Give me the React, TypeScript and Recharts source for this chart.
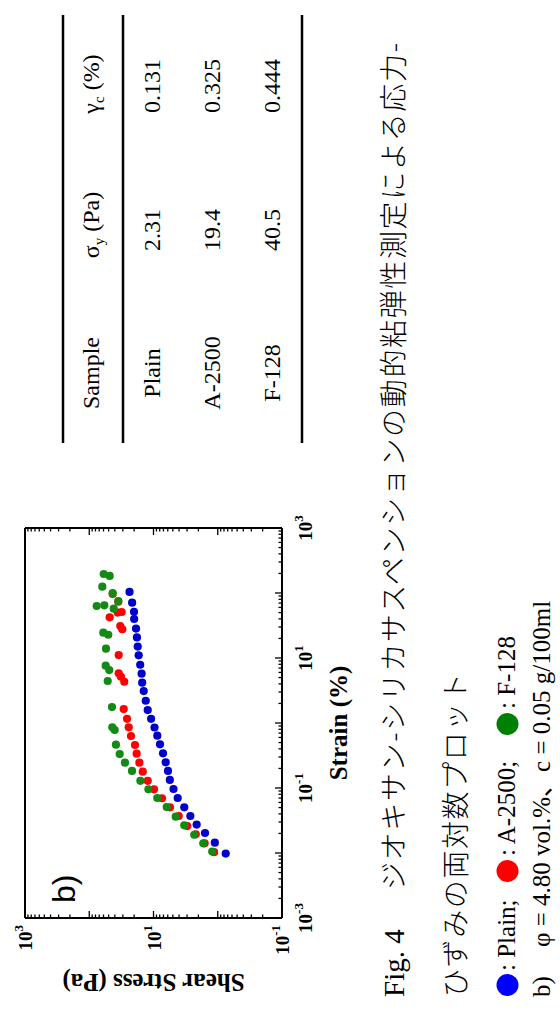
import { ScatterChart, Scatter, XAxis, YAxis, Label } from 'recharts';

// strain (%) and shear stress (Pa)
const plainStrain = [0.0098, 0.0144, 0.0203, 0.0274, 0.0371, 0.0505, 0.0702, 0.0966, 0.133, 0.183, 0.248, 0.342, 0.47, 0.638, 0.853, 1.16, 1.58, 2.2, 3.1, 4.17, 5.73, 7.88, 11.0, 15.0, 20.7, 28.4, 39.8, 51.5, 71.0, 104];
const plainStress = [0.752, 1.11, 1.58, 2.13, 2.67, 3.32, 4.2, 4.88, 5.57, 5.95, 6.46, 7.11, 7.92, 8.73, 9.64, 10.9, 12.3, 13.2, 14.2, 15.0, 15.3, 16.1, 17.0, 17.6, 18.1, 18.7, 20.0, 20.1, 21.5, 23.6];

const a2500Strain = [0.0103, 0.0141, 0.0194, 0.026, 0.0371, 0.0505, 0.0695, 0.0955, 0.129, 0.178, 0.245, 0.337, 0.459, 0.631, 0.859, 1.16, 1.64, 4.31, 5.15, 5.82, 11.1, 27.7, 31.0, 51.0, 50.0, 42.3, 73.5, 96.6];
const a2500Stress = [1.14, 1.6, 2.2, 2.98, 4.05, 5.54, 7.38, 9.82, 12.3, 14.7, 16.6, 18.3, 19.4, 22.4, 24.3, 25.8, 29.1, 28.5, 32.1, 34.8, 34.8, 30.6, 32.9, 31.3, 36.1, 48.1, 35.3, 43.2];

const f128Strain = [0.0105, 0.0141, 0.0191, 0.0267, 0.0362, 0.051, 0.0702, 0.0955, 0.129, 0.183, 0.245, 0.333, 0.464, 0.78, 0.859, 1.76, 4.43, 6.53, 7.62, 13.9, 22.8, 24.5, 57.3, 64.7, 63.1, 75.3, 100, 125, 183, 196];
const f128Stress = [1.22, 1.68, 2.32, 3.32, 4.51, 6.23, 8.73, 12.0, 16.0, 21.6, 27.8, 33.6, 38.4, 40.2, 43.8, 44.3, 51.6, 48.8, 55.5, 54.9, 50.6, 60.4, 41.6, 58.3, 76.6, 35.3, 43.2, 62.6, 48.1, 59.6];

const strainDecades = [0.001, 0.01, 0.1, 1, 10, 100, 1000];
const stressDecades = [0.1, 1, 10, 100, 1000];
const minorSteps = [2, 3, 4, 5, 6, 7, 8, 9];
const strainLabels: Record<string, string> = { '0.001': '-3', '0.1': '-1', '10': '1', '1000': '3' };
const stressLabels: Record<string, string> = { '0.1': '-1', '10': '1', '1000': '3' };

// table
const tableSamples = ['Plain', 'A-2500', 'F-128'];
const tableYield = ['2.31', '19.4', '40.5'];
const tableCritical = ['0.131', '0.325', '0.444'];

const zip = (xs: number[], ys: number[]) => xs.map((x, i) => ({ x, y: ys[i] }));
const withMinors = (decades: number[]) =>
  decades.flatMap((d, i) => (i === decades.length - 1 ? [d] : [d, ...minorSteps.map((m) => +(d * m).toPrecision(6))]));

const strainTicks = withMinors(strainDecades);
const stressTicks = withMinors(stressDecades);

const SERIF = '"Liberation Serif", "Times New Roman", serif';
const CJK = '"Noto Sans CJK JP", sans-serif';

const isMajor = (v: number) => {
  const lg = Math.log10(v);
  return Math.abs(lg - Math.round(lg)) < 1e-6;
};

const makeTick = (side: 'bottom' | 'top' | 'left' | 'right') => (props: any) => {
  const { x, y, payload } = props;
  const v = payload.value;
  const len = isMajor(v) ? 7 : 3.5;
  let line;
  if (side === 'bottom') line = <line x1={x} y1={y} x2={x} y2={y - len} />;
  else if (side === 'top') line = <line x1={x} y1={y} x2={x} y2={y + len} />;
  else if (side === 'left') line = <line x1={x} y1={y} x2={x + len} y2={y} />;
  else line = <line x1={x} y1={y} x2={x - len} y2={y} />;
  let text = null;
  const key = String(v);
  if (side === 'bottom' && strainLabels[key]) {
    text = (
      <text x={x} y={y + 30} textAnchor="middle" fontFamily={SERIF} fontWeight="bold" fontSize={19} fill="#000" stroke="none">
        <tspan>10</tspan>
        <tspan dy={-9} fontSize={13}>{strainLabels[key]}</tspan>
      </text>
    );
  }
  if (side === 'left' && stressLabels[key]) {
    text = (
      <text x={x - 7} y={y + 7} textAnchor="end" fontFamily={SERIF} fontWeight="bold" fontSize={19} fill="#000" stroke="none">
        <tspan>10</tspan>
        <tspan dy={-9} fontSize={13}>{stressLabels[key]}</tspan>
      </text>
    );
  }
  return (
    <g stroke="#000" strokeWidth={1.3}>
      {line}
      {text}
    </g>
  );
};

const dot = (color: string) => (props: any) => <circle cx={props.cx} cy={props.cy} r={4.1} fill={color} />;

const axisLine = { stroke: '#000', strokeWidth: 2 };

function StressChart() {
  return (
    <ScatterChart width={520} height={360} margin={{ top: 24, right: 25, bottom: 8, left: 4 }}>
      <XAxis
        xAxisId="bottom"
        dataKey="x"
        type="number"
        scale="log"
        domain={[0.001, 1000]}
        allowDataOverflow
        ticks={strainTicks}
        interval={0}
        height={70}
        tickSize={0}
        tickMargin={0}
        tickLine={false}
        axisLine={axisLine}
        tick={makeTick('bottom')}
      >
        <Label
          content={(p: any) => {
            const vb = p.viewBox;
            return (
              <text x={vb.x + vb.width / 2} y={vb.y + 65} textAnchor="middle" fontFamily={SERIF} fontWeight="bold" fontSize={25}>
                Strain (%)
              </text>
            );
          }}
        />
      </XAxis>
      <XAxis
        xAxisId="top"
        orientation="top"
        type="number"
        scale="log"
        domain={[0.001, 1000]}
        allowDataOverflow
        ticks={strainTicks}
        interval={0}
        height={1}
        tickSize={0}
        tickMargin={0}
        tickLine={false}
        axisLine={axisLine}
        tick={makeTick('top')}
      />
      <YAxis
        yAxisId="left"
        dataKey="y"
        type="number"
        scale="log"
        domain={[0.1, 1000]}
        allowDataOverflow
        ticks={stressTicks}
        interval={0}
        width={100}
        tickSize={0}
        tickMargin={0}
        tickLine={false}
        axisLine={axisLine}
        tick={makeTick('left')}
      >
        <Label
          content={(p: any) => {
            const vb = p.viewBox;
            const cx = vb.x + 44;
            const cy = vb.y + vb.height / 2;
            return (
              <text x={cx} y={cy} transform={`rotate(-90 ${cx} ${cy})`} textAnchor="middle" fontFamily={SERIF} fontWeight="bold" fontSize={25}>
                Shear Stress (Pa)
              </text>
            );
          }}
        />
      </YAxis>
      <YAxis
        yAxisId="right"
        orientation="right"
        type="number"
        scale="log"
        domain={[0.1, 1000]}
        allowDataOverflow
        ticks={stressTicks}
        interval={0}
        width={1}
        tickSize={0}
        tickMargin={0}
        tickLine={false}
        axisLine={axisLine}
        tick={makeTick('right')}
      />
      <Scatter name="Plain" data={zip(plainStrain, plainStress)} xAxisId="bottom" yAxisId="left" shape={dot('#0000cd')} isAnimationActive={false} />
      <Scatter name="A-2500" data={zip(a2500Strain, a2500Stress)} xAxisId="bottom" yAxisId="left" shape={dot('#ff0000')} isAnimationActive={false} />
      <Scatter name="F-128" data={zip(f128Strain, f128Stress)} xAxisId="bottom" yAxisId="left" shape={dot('#138a13')} isAnimationActive={false} />
    </ScatterChart>
  );
}

function PageText() {
  const cols = [649, 792, 936];
  const rows = [160, 220, 280];
  return (
    <svg width={1022} height={560} style={{ position: 'absolute', left: 0, top: 0 }}>
      <text x={119} y={75} fontFamily='"Liberation Sans", Arial, sans-serif' fontSize={32}>b)</text>

      {/* table */}
      <line x1={579} x2={1007} y1={63} y2={63} stroke="#000" strokeWidth={2.5} />
      <line x1={579} x2={1007} y1={123} y2={123} stroke="#000" strokeWidth={2.5} />
      <line x1={579} x2={1007} y1={302} y2={302} stroke="#000" strokeWidth={2.5} />
      <g fontFamily={SERIF} fontSize={24} textAnchor="middle">
        <text x={cols[0]} y={99}>Sample</text>
        <text x={797} y={99}>
          σ<tspan dy={5} fontSize={15}>y</tspan>
          <tspan dy={-5}> (Pa)</tspan>
        </text>
        <text x={938} y={99}>
          γ<tspan dy={5} fontSize={15}>c</tspan>
          <tspan dy={-5}> (%)</tspan>
        </text>
        {tableSamples.map((s, i) => (
          <g key={s}>
            <text x={cols[0]} y={rows[i]}>{s}</text>
            <text x={cols[1]} y={rows[i]}>{tableYield[i]}</text>
            <text x={cols[2]} y={rows[i]}>{tableCritical[i]}</text>
          </g>
        ))}
      </g>

      {/* caption */}
      <text x={25} y={404} fontFamily={SERIF} fontSize={29}>Fig. 4</text>
      <text x={132} y={404} fontFamily={CJK} fontSize={28} fontWeight={300} textLength={847} lengthAdjust="spacing">
        ジオキサン-シリカサスペンションの動的粘弾性測定による応力-
      </text>
      <text x={25} y={466} fontFamily={CJK} fontSize={28} fontWeight={300} textLength={324} lengthAdjust="spacing">
        ひずみの両対数プロット
      </text>

      <circle cx={37} cy={507.5} r={11} fill="#0000ff" />
      <text x={51} y={515} fontFamily={SERIF} fontSize={25}>: Plain;</text>
      <circle cx={151} cy={507.5} r={11} fill="#ff0000" />
      <text x={166} y={515} fontFamily={SERIF} fontSize={25}>: A-2500;</text>
      <circle cx={298} cy={507.5} r={11} fill="#008000" />
      <text x={313} y={515} fontFamily={SERIF} fontSize={25}>: F-128</text>

      <text x={25} y={550} fontFamily={SERIF} fontSize={25}>b)</text>
      <text x={75} y={550} fontFamily={`${SERIF.replace(', serif', '')}, ${CJK}`} fontSize={25}>
        φ = 4.80 vol.%、c = 0.05 g/100ml
      </text>
    </svg>
  );
}

export default function App() {
  return (
    <div style={{ position: 'absolute', left: 0, top: 0, width: 560, height: 1022, overflow: 'hidden', background: '#fff' }}>
      <div
        style={{
          position: 'absolute',
          left: 0,
          top: 0,
          width: 1022,
          height: 560,
          transformOrigin: '0 0',
          transform: 'translateY(1022px) rotate(-90deg)',
        }}
      >
        <div style={{ position: 'absolute', left: 0, top: 0 }}>
          <StressChart />
        </div>
        <PageText />
      </div>
    </div>
  );
}
